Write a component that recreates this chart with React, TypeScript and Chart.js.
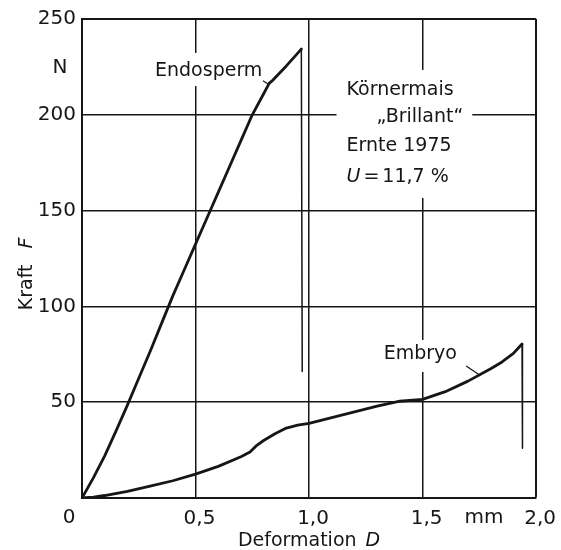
import React, { useEffect, useRef } from 'react';
import { Chart, registerables } from 'chart.js';

Chart.register(...registerables);

// ---- data ----
const endospermX = [0, 0.05, 0.1, 0.15, 0.2, 0.25, 0.3, 0.35, 0.4, 0.45, 0.5, 0.55, 0.6, 0.65, 0.7, 0.75, 0.8, 0.825, 0.84, 0.9, 0.966, 0.97];
const endospermY = [0, 10.5, 22, 35, 48.5, 62.5, 76.5, 91, 105.5, 119, 132.5, 146, 159.5, 173, 186.5, 200, 211, 216.5, 218, 225.5, 234.3, 66];

const embryoX = [0, 0.05, 0.1, 0.2, 0.3, 0.4, 0.5, 0.6, 0.7, 0.74, 0.77, 0.8, 0.85, 0.9, 0.95, 1.0, 1.1, 1.2, 1.3, 1.4, 1.5, 1.6, 1.7, 1.8, 1.85, 1.9, 1.938, 1.94];
const embryoY = [0, 0.5, 1.3, 3.5, 6.2, 9, 12.5, 16.5, 21.5, 24, 27.5, 30, 33.5, 36.5, 38, 39, 42, 45, 48, 50.5, 51.5, 55.5, 61, 67.5, 71, 75.5, 80.4, 26];

const xTicks = [0, 0.5, 1.0, 1.5, 2.0];
const yTicks = [0, 50, 100, 150, 200, 250];

const xTitle = 'Deformation';
const xTitleSymbol = 'D';
const xUnit = 'mm';
const yTitle = 'Kraft';
const yTitleSymbol = 'F';
const yUnit = 'N';

const FONT = '"DejaVu Sans", sans-serif';
const INK = '#161616';

// annotation layout (in data units)
const labels = [
  { text: 'Endosperm', x: 0.558, y: 222.9, align: 'center' },
  { text: 'Körnermais', x: 1.165, y: 212.9, align: 'left' },
  { text: '„Brillant“', x: 1.297, y: 198.9, align: 'left' },
  { text: 'Ernte 1975', x: 1.165, y: 183.7, align: 'left' },
  { text: 'Embryo', x: 1.49, y: 75.2, align: 'center' },
];
const moistureLabel = { x: 1.165, y: 167.5 };
const leaders = [
  { x1: 0.797, y1: 217.8, x2: 0.821, y2: 216.0 },
  { x1: 1.692, y1: 68.9, x2: 1.754, y2: 63.9 },
];
const gaps = [
  { x1: 0.3, x2: 0.82, y1: 215, y2: 232.3 },
  { x1: 1.121, x2: 1.719, y1: 156.6, y2: 223.4 },
  { x1: 1.31, x2: 1.67, y1: 65.8, y2: 82.5 },
];

const fmtX = (v: number) => v.toFixed(1).replace('.', ',');

// the final segment of each curve (the fracture drop) is drawn thin
const segWidth = (n: number) => (ctx: any) => (ctx.p1DataIndex === n - 1 ? 1.5 : 2.8);

export default function App() {
  const ref = useRef<HTMLCanvasElement | null>(null);

  useEffect(() => {
    document.body.style.margin = '0';
    const canvas = ref.current;
    if (!canvas) return;

    const decor = {
      id: 'decor',
      beforeDraw(chart: any) {
        const c = chart.ctx;
        c.save();
        c.fillStyle = '#ffffff';
        c.fillRect(0, 0, chart.width, chart.height);
        c.restore();
      },
      beforeDatasetsDraw(chart: any) {
        const c = chart.ctx;
        const xs = chart.scales.x;
        const ys = chart.scales.y;
        c.save();
        c.fillStyle = '#ffffff';
        gaps.forEach((g) => {
          const l = xs.getPixelForValue(g.x1);
          const r = xs.getPixelForValue(g.x2);
          const t = ys.getPixelForValue(g.y2);
          const b = ys.getPixelForValue(g.y1);
          c.fillRect(l, t, r - l, b - t);
        });
        c.restore();
      },
      afterDatasetsDraw(chart: any) {
        const c = chart.ctx;
        const xs = chart.scales.x;
        const ys = chart.scales.y;
        const area = chart.chartArea;
        c.save();
        c.fillStyle = INK;
        c.strokeStyle = INK;
        c.textBaseline = 'middle';
        c.font = `19px ${FONT}`;
        labels.forEach((lb) => {
          c.textAlign = lb.align as CanvasTextAlign;
          c.fillText(lb.text, xs.getPixelForValue(lb.x), ys.getPixelForValue(lb.y));
        });
        // U = 11,7 %
        c.textAlign = 'left';
        let px = xs.getPixelForValue(moistureLabel.x);
        const py = ys.getPixelForValue(moistureLabel.y);
        c.font = `italic 19px ${FONT}`;
        c.fillText('U', px, py);
        px += c.measureText('U').width + 3;
        c.font = `19px ${FONT}`;
        c.fillText('=', px, py);
        px += c.measureText('=').width + 3;
        c.fillText('11,7', px, py);
        px += c.measureText('11,7').width + 6;
        c.fillText('%', px, py);

        // leader lines
        c.lineWidth = 1.2;
        leaders.forEach((ld) => {
          c.beginPath();
          c.moveTo(xs.getPixelForValue(ld.x1), ys.getPixelForValue(ld.y1));
          c.lineTo(xs.getPixelForValue(ld.x2), ys.getPixelForValue(ld.y2));
          c.stroke();
        });

        // corner zero, units
        c.font = `20px ${FONT}`;
        c.textAlign = 'center';
        const tickY = area.bottom + 20;
        c.fillText('0', area.left - 13, tickY);
        c.fillText(xUnit, xs.getPixelForValue(1.771), tickY);
        c.fillText(yUnit, area.left - 22, ys.getPixelForValue(224.4));

        // x axis title
        c.font = `19px ${FONT}`;
        const w1 = c.measureText(xTitle).width;
        c.font = `italic 19px ${FONT}`;
        const w2 = c.measureText(xTitleSymbol).width;
        const gapX = 9;
        const total = w1 + gapX + w2;
        const cx = (area.left + area.right) / 2 + 0;
        let sx = cx - total / 2;
        const ty = area.bottom + 43;
        c.textAlign = 'left';
        c.font = `19px ${FONT}`;
        c.fillText(xTitle, sx, ty);
        sx += w1 + gapX;
        c.font = `italic 19px ${FONT}`;
        c.fillText(xTitleSymbol, sx, ty);

        // y axis title (rotated)
        c.save();
        c.translate(27, ys.getPixelForValue(117));
        c.rotate(-Math.PI / 2);
        c.font = `19px ${FONT}`;
        const v1 = c.measureText(yTitle).width;
        c.font = `italic 19px ${FONT}`;
        const v2 = c.measureText(yTitleSymbol).width;
        const gapY = 16;
        const tot = v1 + gapY + v2;
        let sy = -tot / 2;
        c.font = `19px ${FONT}`;
        c.fillText(yTitle, sy, 0);
        sy += v1 + gapY;
        c.font = `italic 19px ${FONT}`;
        c.fillText(yTitleSymbol, sy, 0);
        c.restore();

        c.restore();
      },
    };

    const chart = new Chart(canvas, {
      type: 'line',
      data: {
        datasets: [
          {
            label: 'Endosperm',
            data: endospermX.map((x, i) => ({ x, y: endospermY[i] })),
            borderColor: INK,
            borderWidth: 2.8,
            borderJoinStyle: 'round',
            borderCapStyle: 'round',
            segment: { borderWidth: segWidth(endospermX.length) },
            pointRadius: 0,
            tension: 0,
            fill: false,
          },
          {
            label: 'Embryo',
            data: embryoX.map((x, i) => ({ x, y: embryoY[i] })),
            borderColor: INK,
            borderWidth: 2.8,
            borderJoinStyle: 'round',
            borderCapStyle: 'round',
            segment: { borderWidth: segWidth(embryoX.length) },
            pointRadius: 0,
            tension: 0,
            fill: false,
          },
        ],
      },
      options: {
        responsive: false,
        animation: false,
        devicePixelRatio: 1,
        layout: { padding: { top: 19, right: 24, left: 0, bottom: 0 } },
        plugins: {
          legend: { display: false },
          tooltip: { enabled: false },
        },
        scales: {
          x: {
            type: 'linear',
            min: xTicks[0],
            max: xTicks[xTicks.length - 1],
            afterBuildTicks: (s: any) => {
              s.ticks = xTicks.map((v) => ({ value: v }));
            },
            afterFit: (s: any) => {
              s.height = 52;
            },
            grid: {
              color: INK,
              lineWidth: (ctx: any) => (ctx.tick && ctx.tick.value === xTicks[xTicks.length - 1] ? 2 : 1.5),
              drawTicks: false,
            },
            border: { color: INK, width: 2 },
            ticks: {
              color: INK,
              font: { family: FONT, size: 20 },
              padding: 9,
              labelOffset: 4,
              maxRotation: 0,
              callback: (v: any) => (Number(v) === 0 ? '' : fmtX(Number(v))),
            },
          },
          y: {
            type: 'linear',
            min: yTicks[0],
            max: yTicks[yTicks.length - 1],
            afterBuildTicks: (s: any) => {
              s.ticks = yTicks.map((v) => ({ value: v }));
            },
            afterFit: (s: any) => {
              s.width = 82;
            },
            grid: {
              color: INK,
              lineWidth: (ctx: any) => (ctx.tick && ctx.tick.value === yTicks[yTicks.length - 1] ? 2 : 1.5),
              drawTicks: false,
            },
            border: { color: INK, width: 2 },
            ticks: {
              color: INK,
              font: { family: FONT, size: 20 },
              padding: 6,
              callback: (v: any) => (Number(v) === 0 ? '' : String(v)),
            },
          },
        },
      },
      plugins: [decor],
    } as any);

    return () => {
      chart.destroy();
    };
  }, []);

  return (
    <div style={{ width: 561, height: 550 }}>
      <canvas ref={ref} width={561} height={550} style={{ display: 'block' }} />
    </div>
  );
}
